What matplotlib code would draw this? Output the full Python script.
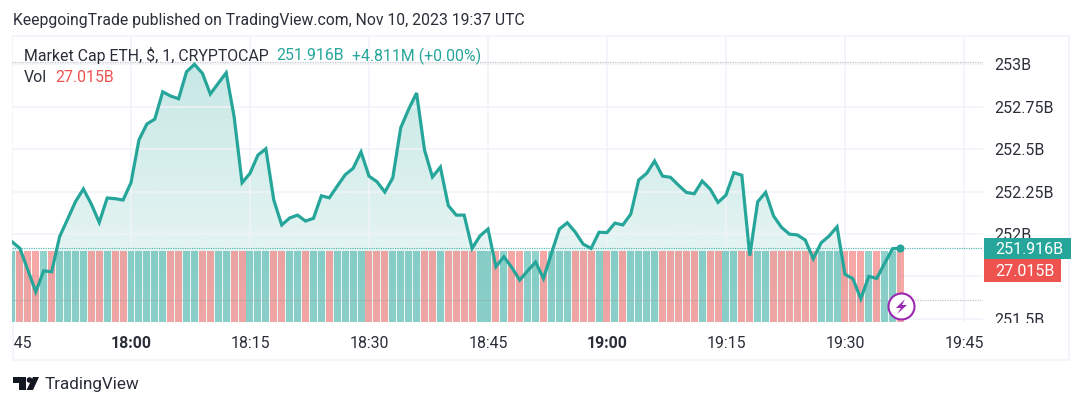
import numpy as np
import matplotlib
matplotlib.use("Agg")
import matplotlib.pyplot as plt
from matplotlib.patches import Rectangle, Circle, Polygon
from matplotlib.transforms import Bbox

plt.rcParams['font.family'] = ['Roboto', 'DejaVu Sans']

# Price in billions of USD, one point per minute from 17:45 to 19:37
price = [
    251.954, 251.915, 251.787, 251.659, 251.783, 251.777, 251.984, 252.086, 252.190, 252.265,
    252.176, 252.068, 252.212, 252.208, 252.200, 252.302, 252.554, 252.648, 252.677, 252.838,
    252.813, 252.797, 252.956, 253.000, 252.947, 252.825, 252.888, 252.950, 252.691, 252.302,
    252.357, 252.465, 252.502, 252.200, 252.053, 252.094, 252.111, 252.076, 252.092, 252.225,
    252.213, 252.282, 252.349, 252.387, 252.483, 252.341, 252.308, 252.247, 252.331, 252.626,
    252.735, 252.831, 252.495, 252.336, 252.394, 252.167, 252.111, 252.111, 251.915, 251.989,
    252.029, 251.807, 251.866, 251.803, 251.728, 251.783, 251.834, 251.738, 251.886, 252.029,
    252.066, 252.011, 251.940, 251.915, 252.010, 252.008, 252.064, 252.053, 252.117, 252.318,
    252.357, 252.430, 252.341, 252.334, 252.288, 252.245, 252.237, 252.312, 252.265, 252.186,
    252.229, 252.361, 252.346, 251.872, 252.190, 252.245, 252.106, 252.039, 251.999, 251.994,
    251.964, 251.854, 251.948, 251.988, 252.042, 251.762, 251.736, 251.618, 251.750, 251.738,
    251.827, 251.913, 251.916,
]
# Volume bar direction for each minute: u = up (teal), d = down (red)
vol_dir = list(
    "uddd" "ud" "uuuu" "dd" "u" "dd" "uuuuu" "dd" "uu" "dd" "uu" "dd" "uuu" "dd" "uu" "d" "uu" "d"
    "uuuu" "ddd" "uuuu" "dd" "u" "dddd" "uu" "d" "u" "dd" "uu" "d" "uuu" "ddd" "u" "d" "u" "d"
    "uuuu" "ddddd" "u" "dd" "uu" "dd" "uu" "dddddd" "uuu" "ddd" "u" "d" "uu" "d"
)
# The bars are visually the same height at the last reading
volume = [27.015] * len(price)

x_ticks = [0, 15, 30, 45, 60, 75, 90, 105, 120]
x_labels = ["17:45", "18:00", "18:15", "18:30", "18:45", "19:00", "19:15", "19:30", "19:45"]
x_bold = ["18:00", "19:00"]
y_ticks = [251.5, 251.75, 252, 252.25, 252.5, 252.75, 253]
y_labels = ["251.5B", "", "252B", "252.25B", "252.5B", "252.75B", "253B"]
last_price = 251.916
high_line = 253.014
low_line = 251.613

TEAL = "#26A69A"
RED = "#EF5350"
INK = "#2A2E39"
GRID = "#F0F3FA"
W, H = 1090, 407

minutes = np.arange(len(price))
fig = plt.figure(figsize=(W / 100, H / 100), dpi=100, facecolor="white")
def fx(p): return p / W
def fy(p): return 1 - p / H

pos = [fx(12), fy(322), fx(983) - fx(12), fy(37) - fy(322)]
ax = fig.add_axes(pos, zorder=1)
ax_vol = fig.add_axes(pos, zorder=2, sharex=ax)
ax_line = fig.add_axes(pos, zorder=3, sharex=ax, sharey=ax)
xlim = (0, 122.4)
ylim = (251.481, 253.161)

# outer frame
fig.add_artist(Rectangle((fx(13), fy(360)), fx(1069) - fx(13), fy(36) - fy(360),
                         transform=fig.transFigure, fill=False, ec=GRID, lw=1.2, zorder=0))

# area with vertical gradient
top_val = max(price)
grad = np.zeros((256, 1, 4))
grad[..., :3] = matplotlib.colors.to_rgb(TEAL)
grad[..., 3] = np.linspace(0.26, 0.07, 256)[:, None]
im = ax.imshow(grad, extent=[minutes[0], minutes[-1], ylim[0], top_val], aspect="auto", zorder=1)
poly = Polygon(np.column_stack([np.r_[minutes, minutes[-1], minutes[0]],
                                np.r_[price, ylim[0], ylim[0]]]),
               closed=True, transform=ax.transData, fill=False, ec="none")
ax.add_patch(poly)
im.set_clip_path(poly)

ax.set_xlim(*xlim)
ax.set_ylim(*ylim)
ax.set_xticks(x_ticks, x_labels)
ax.set_yticks(y_ticks, y_labels)
ax.yaxis.tick_right()
ax.grid(True, color=GRID, lw=1.1, zorder=2)
ax.set_axisbelow(False)
ax.tick_params(length=0)
ax.tick_params(axis="x", pad=10, labelsize=11.4, labelcolor=INK)
ax.tick_params(axis="y", pad=8.2, labelsize=11.5, labelcolor=INK)
for s in ax.spines.values():
    s.set_visible(False)

# tick labels cut by the pane edges
clip_x = Bbox([[13, 0], [W, H]])
clip_y = Bbox([[0, H - 323], [W, H]])
for lab in ax.get_xticklabels():
    lab.set_clip_on(True)
    lab.set_clip_box(clip_x)
    if lab.get_text() in x_bold:
        lab.set_fontweight("bold")
for lab in ax.get_yticklabels():
    lab.set_clip_on(True)
    lab.set_clip_box(clip_y)

# volume
ax_vol.bar(minutes, volume, width=0.88,
           color=[TEAL if d == "u" else RED for d in vol_dir], alpha=0.5, lw=0)
ax_vol.set_ylim(0, 108.4)
ax_vol.axis("off")

# line, dotted levels, last-point dot
ax_line.axis("off")
ax_line.axhline(high_line, color="#9598A1", lw=0.9, ls=(0, (1, 1)), alpha=0.55)
ax_line.axhline(low_line, color="#9598A1", lw=0.9, ls=(0, (1, 1)), alpha=0.55)
ax_line.axhline(last_price, color=TEAL, lw=0.85, ls=(0, (1, 1)), alpha=0.8)
ax_line.plot(minutes, price, color=TEAL, lw=2.3, solid_joinstyle="miter")
ax_line.plot(minutes[-1], price[-1], "o", color=TEAL, ms=5.8, mew=0)
ax_line.set_xlim(*xlim)
ax_line.set_ylim(*ylim)

# header and legend
fig.text(fx(13), fy(20), "KeepgoingTrade published on TradingView.com, Nov 10, 2023 19:37 UTC",
         color=INK, fontsize=11.3, va="center", zorder=5)
fig.text(fx(24), fy(56), "Market Cap ETH, $, 1, CRYPTOCAP", color=INK, fontsize=11.45, va="center", zorder=5)
fig.text(fx(276), fy(56), "251.916B", color=TEAL, fontsize=11.4, va="center", zorder=5)
fig.text(fx(352), fy(56), "+4.811M (+0.00%)", color=TEAL, fontsize=11.4, va="center", zorder=5)
fig.text(fx(24), fy(78), "Vol", color=INK, fontsize=11.4, va="center", zorder=5)
fig.text(fx(55), fy(78), "27.015B", color=RED, fontsize=11.4, va="center", zorder=5)

# price badges
fig.add_artist(Rectangle((fx(984), fy(259)), fx(1071) - fx(984), fy(238) - fy(259),
                         transform=fig.transFigure, fc=TEAL, ec="none", zorder=6))
fig.text(fx(995), fy(249), "251.916B", color="white", fontsize=11.5, va="center", zorder=7)
fig.add_artist(Rectangle((fx(984), fy(282)), fx(1061) - fx(984), fy(259) - fy(282),
                         transform=fig.transFigure, fc=RED, ec="none", zorder=6))
fig.text(fx(995), fy(271), "27.015B", color="white", fontsize=11.5, va="center", zorder=7)

# lightning badge drawn in pixels
purple = "#9C27B0"
ov = fig.add_axes([0, 0, 1, 1], zorder=8)
ov.set_xlim(0, W); ov.set_ylim(H, 0); ov.axis("off"); ov.patch.set_alpha(0)
ov.add_patch(Circle((901.5, 306.5), 13, fc="white", ec=purple, lw=1.5))
ov.add_patch(Polygon([(905, 299), (896, 308), (901, 308), (897, 314), (907, 305), (902, 305)],
                     closed=True, fc=purple, ec="none"))

# TradingView logo
ov.add_patch(Polygon([(13, 377), (26, 377), (26, 390), (19, 390), (19, 383), (13, 383)],
                     closed=True, fc="#131722", ec="none"))
ov.add_patch(Circle((29.5, 380), 2.8, fc="#131722", ec="none"))
ov.add_patch(Polygon([(33, 377), (39, 377), (33, 390), (26.5, 390)],
                     closed=True, fc="#131722", ec="none"))
ov.text(44.5, 384, "TradingView", color="#2A2E39", fontsize=12.3, va="center")

fig.savefig("out.png", dpi=100)
